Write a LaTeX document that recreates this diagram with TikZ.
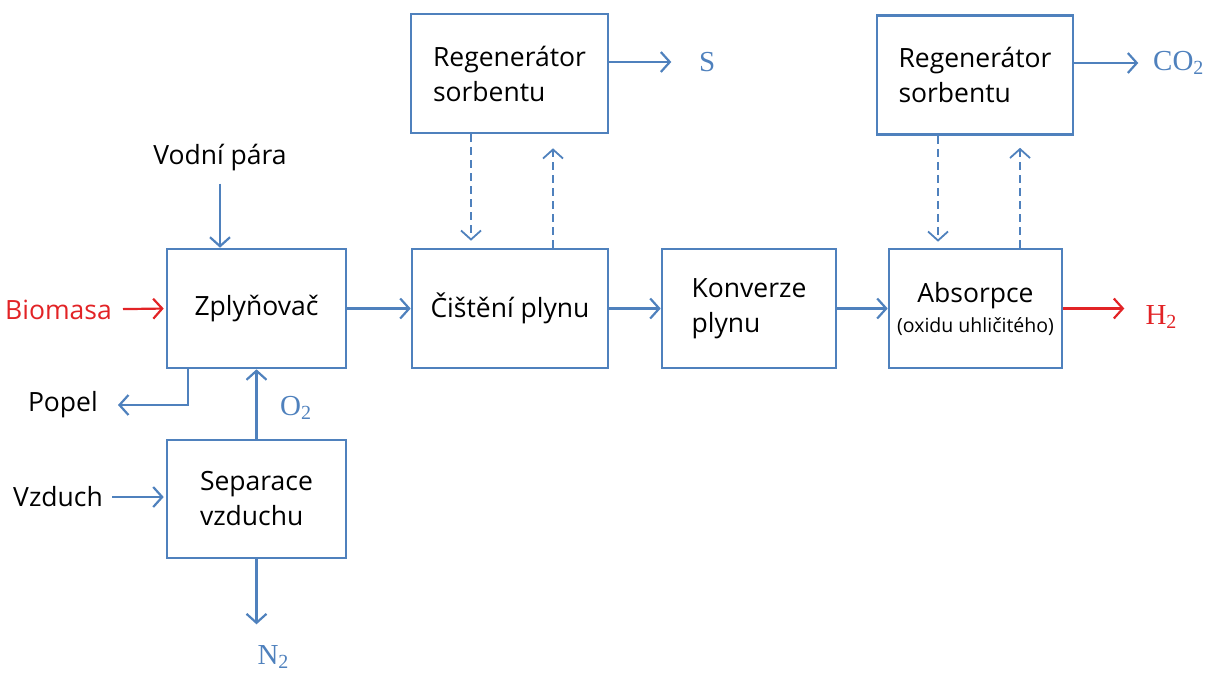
\documentclass[tikz,border=0pt]{standalone}
\usepackage{fontspec}
\setmainfont{Open Sans}
\newfontfamily\chemfont{Liberation Serif}
\usetikzlibrary{arrows.meta}
\usetikzlibrary{positioning}
\usepackage{xcolor}
\definecolor{flowblue}{RGB}{79,129,189}
\definecolor{flowred}{RGB}{226,35,38}
\newcommand{\chemf}[2]{#1\raisebox{-0.35ex}{\fontsize{20}{20}\selectfont #2}}

\begin{document}
\begin{tikzpicture}[x=1pt,y=-1pt,
  unit/.style={draw=flowblue,line width=2.6pt,minimum width=#1,minimum height=119pt,
    inner sep=0pt,font=\fontsize{26.5}{35}\selectfont,align=left},
  label/.style={inner sep=0pt,font=\fontsize{26.5}{30}\selectfont},
  chemlabel/.style={inner sep=0pt,text=flowblue,font=\chemfont\fontsize{29}{30}\selectfont},
  flow/.style={draw=flowblue,line width=2.2pt,-{Straight Barb[length=9pt,width=20pt]}},
  redflow/.style={flow,draw=flowred},
  loop/.style={flow,line width=1.8pt,dash pattern=on 8pt off 5pt}]
\useasboundingbox (0,0) rectangle (1210,673);

% process units
\node[unit=179pt] (gas) at (256.5,308.5) {Zplyňovač};
\node[unit=196pt] (clean) at (510,308.5) {Čištění plynu};
\node[unit=174pt] (conv) at (749,308.5) {Konverze\\plynu};
\node[unit=173pt,align=center] (absorb) at (975.5,308.5)
  {Absorpce\\[-5pt]{\fontsize{19.5}{22}\selectfont(oxidu uhličitého)}};
\node[unit=197pt] (regS) at (509.5,73.5) {Regenerátor\\sorbentu};
\node[unit=196pt] (regC) at (975,75) {Regenerátor\\sorbentu};
\node[unit=179pt,minimum height=118pt] (sep) at (256.5,499) {Separace\\vzduchu};

% inputs and outputs
\node[label,text=flowred,anchor=east] (bio) at (112,310) {Biomasa};
\node[label] (steam) at (220,158) {Vodní pára};
\node[label,anchor=east] (ash) at (98,405) {Popel};
\node[label,anchor=east] (air) at (103,497) {Vzduch};
\node[chemlabel,anchor=west] (oxy) at (280,408) {\chemf{O}{2}};
\node[chemlabel] (nit) at (273,657) {\chemf{N}{2}};
\node[chemlabel,anchor=west] (sulf) at (699,62) {S};
\node[chemlabel,anchor=west] (co2) at (1153,63) {\chemf{CO}{2}};
\node[chemlabel,text=flowred] (hyd) at (1161,317) {\chemf{H}{2}};

\coordinate (ashbend) at (188,405);
\coordinate (regSdown) at (471,0);
\coordinate (regSup) at (553,0);
\coordinate (regCdown) at (938,0);
\coordinate (regCup) at (1020,0);

% main line
\draw[redflow] (bio) -- (gas.west) [shorten <=11pt,shorten >=2pt];
\draw[flow] (gas) -- (clean);
\draw[flow] (clean) -- (conv);
\draw[flow] (conv) -- (absorb);
\draw[redflow] (absorb.east) -- ++(61,0);

\draw[flow,shorten <=12pt] (steam.south) -- (steam.south |- gas.north);
\draw[flow,shorten >=20pt] (gas.south -| ashbend) -- (ashbend) -- (ash);
\draw[flow] (sep) -- (gas);
\draw[flow,shorten <=9pt,shorten >=2pt] (air) -- (sep.west |- air);
\draw[flow] (sep.south) -- ++(0,65);

% sorbent loops
\draw[flow] (regS.east |- sulf) -- ++(62,0);
\draw[flow] (regC.east |- co2) -- ++(64,0);
\draw[loop,shorten >=7pt] (regS.south -| regSdown) -- (clean.north -| regSdown);
\draw[loop,shorten >=14pt] (clean.north -| regSup) -- (regS.south -| regSup);
\draw[loop,shorten >=6pt] (regC.south -| regCdown) -- (absorb.north -| regCdown);
\draw[loop,shorten >=12pt] (absorb.north -| regCup) -- (regC.south -| regCup);
\end{tikzpicture}
\end{document}
